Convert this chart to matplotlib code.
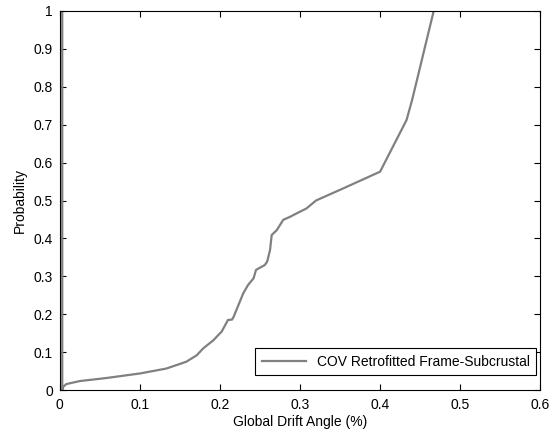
import matplotlib
matplotlib.use("Agg")
import matplotlib.pyplot as plt

plt.rcParams['font.family'] = ['Liberation Sans', 'DejaVu Sans']

# drift angle (%) and cumulative probability
drift = [0.003, 0.003, 0.004, 0.008, 0.025, 0.058, 0.1, 0.133, 0.158, 0.171, 0.179,
         0.192, 0.2, 0.202, 0.21, 0.215, 0.217, 0.223, 0.229, 0.235, 0.242, 0.245,
         0.256, 0.259, 0.2625, 0.2646, 0.271, 0.279, 0.2875, 0.292, 0.308, 0.32,
         0.354, 0.4, 0.433, 0.44, 0.467]
prob = [1.0, 0.0, 0.008, 0.016, 0.024, 0.032, 0.044, 0.057, 0.075, 0.092, 0.110,
        0.132, 0.150, 0.154, 0.185, 0.186, 0.193, 0.224, 0.255, 0.277, 0.295, 0.317,
        0.33, 0.339, 0.369, 0.409, 0.422, 0.449, 0.457, 0.462, 0.479, 0.500,
        0.532, 0.576, 0.712, 0.765, 1.0]
label = "COV Retrofitted Frame-Subcrustal"

fig = plt.figure(figsize=(5.49, 4.34), dpi=100)
ax = fig.add_axes([0.109, 0.101, 0.875, 0.874])

ax.plot(drift, prob, color="#808080", linewidth=1.6, label=label)

ax.set_xlim(0, 0.6)
ax.set_ylim(0, 1)
ax.set_xticks([0, 0.1, 0.2, 0.3, 0.4, 0.5, 0.6])
ax.set_xticklabels(["0", "0.1", "0.2", "0.3", "0.4", "0.5", "0.6"])
ax.set_yticks([i / 10 for i in range(11)])
ax.set_yticklabels(["0"] + ["0.%d" % i for i in range(1, 10)] + ["1"])
ax.tick_params(direction="in", top=True, right=True, labelsize=10, length=4, width=0.8)
ax.tick_params(axis="x", pad=6)
ax.tick_params(axis="y", pad=5)
for s in ax.spines.values():
    s.set_linewidth(0.8)

ax.set_xlabel("Global Drift Angle (%)", fontsize=10, labelpad=2)
ax.set_ylabel("Probability", fontsize=10, labelpad=5)

leg = ax.legend(loc="lower right", bbox_to_anchor=(0.992, 0.04), borderaxespad=0,
                fontsize=10, fancybox=False, framealpha=1, edgecolor="black",
                handlelength=3.2, borderpad=0.45)
leg.get_frame().set_linewidth(0.8)

fig.savefig("out.png", dpi=100)
